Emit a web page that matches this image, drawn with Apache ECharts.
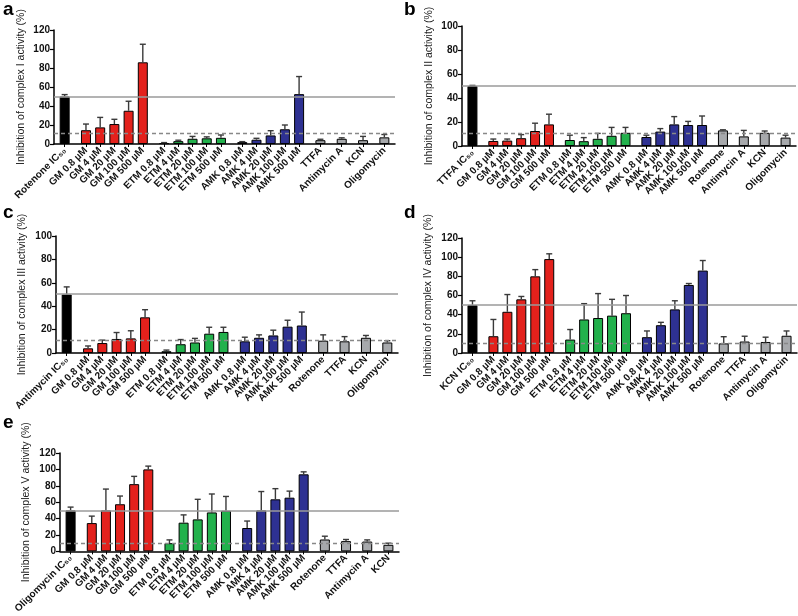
<!DOCTYPE html>
<html><head><meta charset="utf-8">
<script src="https://cdn.jsdelivr.net/npm/echarts@6/dist/echarts.min.js"></script>
<style>html,body{margin:0;padding:0;background:#fff}#c{width:798px;height:616px}</style>
</head><body><div id="c"></div>
<script>
// ---- shared category labels ----
const gmLabels  = ['GM 0.8 µM','GM 4 µM','GM 20 µM','GM 100 µM','GM 500 µM'];
const etmLabels = ['ETM 0.8 µM','ETM 4 µM','ETM 20 µM','ETM 100 µM','ETM 500 µM'];
const amkLabels = ['AMK 0.8 µM','AMK 4 µM','AMK 20 µM','AMK 100 µM','AMK 500 µM'];
const groupColors = ['#000000','#E3211C','#22B14C','#2E3192','#A7A9AC'];

// ---- panel a: complex I ----
const aRef = 'Rotenone IC₅₀';
const aControls = ['TTFA','Antimycin A','KCN','Oligomycin'];
const aMeans = [50, 14.5,17.5,21,35,86, 1,3,5.5,6,6.5, 2,4.5,9,15.5,52.5, 4,5.5,4,7];
const aErrs  = [2, 6.5,10.5,5,10,19, 0.5,1,2.5,1.5,3, 0.5,1.5,5,4.5,18.5, 1,1,4,3];
const aYTicks = [0,20,40,60,80,100,120];
const aLines = [50, 11];

// ---- panel b: complex II ----
const bRef = 'TTFA IC₅₀';
const bControls = ['Rotenone','Antimycin A','KCN','Oligomycin'];
const bMeans = [50, 4.2,4.5,6.5,12.5,18, 5,4,6,8.5,11, 7.5,12,18,17.5,17.5, 13,8,11,7];
const bErrs  = [0.5, 1.6,1.3,3,6.5,8.5, 4,3,4.5,7,4.5, 1.5,2.5,6.5,3,7.5, 0.5,5,1.5,2];
const bYTicks = [0,20,40,60,80,100];
const bLines = [50, 10.5];

// ---- panel c: complex III ----
const cRef = 'Antimycin IC₅₀';
const cControls = ['Rotenone','TTFA','KCN','Oligomycin'];
const cMeans = [50, 4,8.5,12,12.5,30.5, 1.5,7.5,9,16.5,18, 10,13,15,22.5,23.5, 10.5,10,13,9];
const cErrs  = [6.5, 2,2.5,5.5,6.5,6.5, 1,4,3.5,5.5,4, 3.5,2.5,4.5,5.5,11.5, 5,4,2,1.5];
const cYTicks = [0,20,40,60,80,100];
const cLines = [51, 10.5];

// ---- panel d: complex IV ----
const dRef = 'KCN IC₅₀';
const dControls = ['Rotenone','TTFA','Antimycin A','Oligomycin'];
const dMeans = [50, 17.5,43,56,80,98, 14,35,36.5,39,41.5, 16.5,29,45.5,71,86, 10,12,11.5,18];
const dErrs  = [4.5, 17.5,18,3,7,5.5, 10.5,16.5,25.5,17,18.5, 6.5,3,9,1.5,10.5, 7,5.5,5,5];
const dYTicks = [0,20,40,60,80,100,120];
const dLines = [50, 10];

// ---- panel e: complex V ----
const eRef = 'Oligomycin IC₅₀';
const eControls = ['Rotenone','TTFA','Antimycin A','KCN'];
const eMeans = [50, 34.5,50,57.5,82,100, 10,35,39,47.5,49.5, 28.5,50,63.5,65.5,94, 14.5,12.5,12,8];
const eErrs  = [4, 8.5,26,10,9.5,4, 4,9.5,24.5,22.5,17.5, 8.5,23,13,8,3, 4,2,2,2];
const eYTicks = [0,20,40,60,80,100,120];
const eLines = [50, 10];

const FONT = '"Liberation Sans", Arial, sans-serif';
const option = {
  animation: false,
  backgroundColor: '#fff',
  grid: [], xAxis: [], yAxis: [], series: [],
  graphic: []
};

function isSp(v){ return typeof v === 'string' && v.indexOf('_sp') === 0; }

function addPanel(letter, letterPos, box, ref, controls, means, errs, yTicks, lines, yName, nameGap) {
  const gi = option.grid.length;
  const groups = [[ref], gmLabels, etmLabels, amkLabels].concat(controls.map(c => [c]));
  const gcol = [0,1,2,3].concat(controls.map(() => 4));
  const cats = [];
  const barSlots = [];
  const barColors = [];
  let sp = 0;
  const spacer = () => cats.push('_sp' + (sp++));
  spacer();
  groups.forEach((g, k) => {
    if (k > 0) { spacer(); spacer(); }
    g.forEach((lab, j) => {
      if (j > 0) spacer();
      barSlots.push(cats.length);
      barColors.push(groupColors[gcol[k]]);
      cats.push(lab);
    });
  });
  spacer();

  const barData = cats.map(() => '-');
  const errData = [];
  barSlots.forEach((slot, i) => {
    barData[slot] = { value: means[i], itemStyle: { color: barColors[i] } };
    errData.push([slot, means[i], means[i] + errs[i]]);
  });

  option.grid.push({ left: box[0], top: box[1], width: box[2], height: box[3] });
  option.xAxis.push({
    type: 'category', gridIndex: gi, data: cats,
    axisLine: { lineStyle: { color: '#000', width: 1.5 } },
    axisTick: { show: true, alignWithLabel: true, length: 3, interval: (i, v) => !isSp(v), lineStyle: { color: '#000', width: 1 } },
    axisLabel: {
      rotate: 45, interval: (i, v) => !isSp(v), formatter: v => isSp(v) ? '' : v,
      fontFamily: FONT, fontWeight: 'bold', fontSize: 10, color: '#111', margin: 5
    },
    splitLine: { show: false }
  });
  option.yAxis.push({
    type: 'value', gridIndex: gi, min: yTicks[0], max: yTicks[yTicks.length - 1],
    interval: yTicks[1] - yTicks[0],
    axisLine: { show: true, lineStyle: { color: '#000', width: 1.5 } },
    axisTick: { show: true, length: 4, lineStyle: { color: '#000', width: 1.2 } },
    axisLabel: { fontFamily: FONT, fontWeight: 'bold', fontSize: 10, color: '#111', margin: 4 },
    splitLine: { show: false },
    name: yName, nameLocation: 'middle', nameRotate: 90, nameGap: nameGap,
    nameTextStyle: { fontFamily: FONT, fontSize: 10.5, color: '#222' }
  });
  option.series.push({
    type: 'bar', xAxisIndex: gi, yAxisIndex: gi, data: barData, barWidth: 10,
    itemStyle: { borderColor: '#000', borderWidth: 1 },
    markLine: {
      silent: true, symbol: 'none', label: { show: false }, z: 5,
      data: [
        { yAxis: lines[0], lineStyle: { color: '#9a9a9a', width: 1.5, type: 'solid' } },
        { yAxis: lines[1], lineStyle: { color: '#888', width: 1.3, type: [4, 3] } }
      ]
    }
  });
  option.series.push({
    type: 'custom', xAxisIndex: gi, yAxisIndex: gi, data: errData, z: 4,
    encode: { x: 0, y: [1, 2] },
    renderItem: (params, api) => {
      const p0 = api.coord([api.value(0), api.value(1)]);
      const p1 = api.coord([api.value(0), api.value(2)]);
      const st = { stroke: '#3a3a3a', lineWidth: 1.4 };
      return { type: 'group', children: [
        { type: 'line', shape: { x1: p0[0], y1: p0[1], x2: p1[0], y2: p1[1] }, style: st },
        { type: 'line', shape: { x1: p1[0] - 3, y1: p1[1], x2: p1[0] + 3, y2: p1[1] }, style: st }
      ]};
    }
  });
  option.graphic.push({
    type: 'text', left: letterPos[0], top: letterPos[1],
    style: { text: letter, font: 'bold 19px ' + FONT, fill: '#000' }
  });
}

addPanel('a', [3, 0],   [54, 30, 341, 114],  aRef, aControls, aMeans, aErrs, aYTicks, aLines, 'Inhibition of complex I activity (%)', 27);
addPanel('b', [404, 0], [462, 26, 334, 120], bRef, bControls, bMeans, bErrs, bYTicks, bLines, 'Inhibition of complex II activity (%)', 27);
addPanel('c', [3, 203], [56, 236, 342, 117], cRef, cControls, cMeans, cErrs, cYTicks, cLines, 'Inhibition of complex III activity (%)', 28);
addPanel('d', [404, 203], [462, 238, 335, 115], dRef, dControls, dMeans, dErrs, dYTicks, dLines, 'Inhibition of complex IV activity (%)', 28);
addPanel('e', [3, 413], [60, 453, 339, 110], eRef, eControls, eMeans, eErrs, eYTicks, eLines, 'Inhibition of complex V activity (%)', 28);

const chart = echarts.init(document.getElementById('c'), null, { renderer: 'canvas' });
chart.setOption(option);
</script>
</body></html>
